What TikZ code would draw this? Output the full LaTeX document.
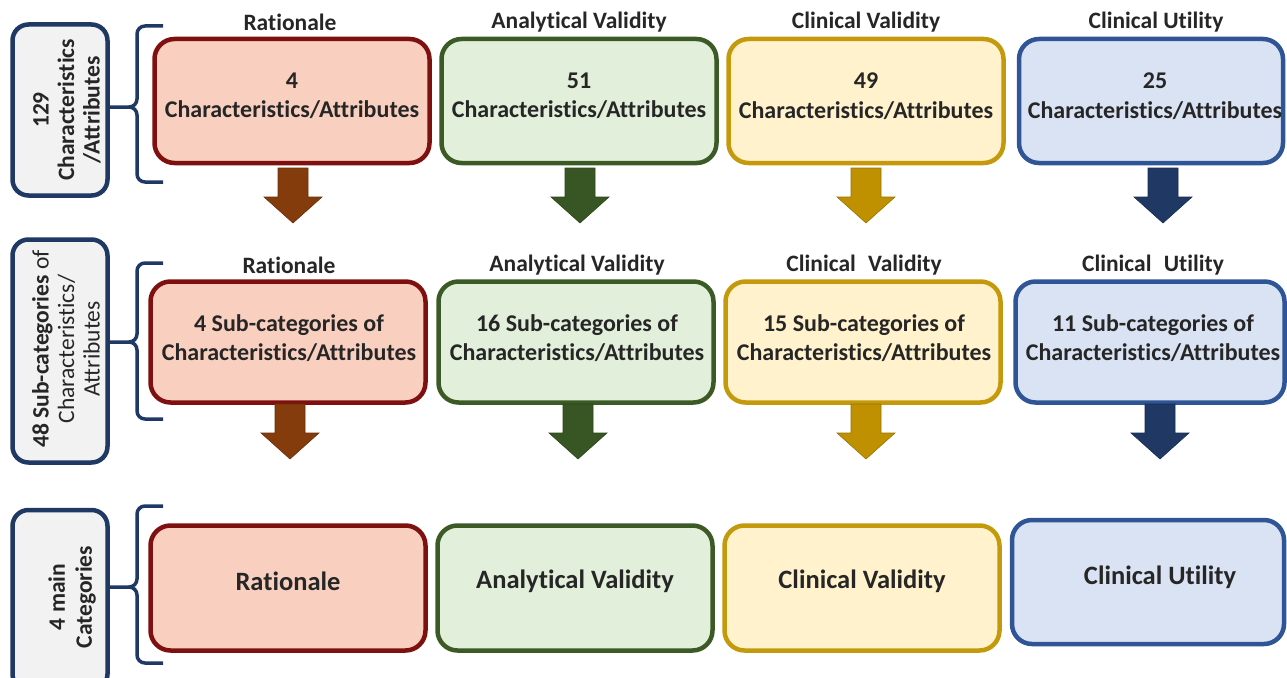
\documentclass[tikz,border=0pt]{standalone}
\usepackage{fontspec}
\setmainfont[Ligatures=NoCommon]{Carlito}
\definecolor{txt}{HTML}{262626}
\definecolor{navy}{HTML}{1F3864}
\definecolor{leftfill}{HTML}{F2F2F2}
\definecolor{rfill}{HTML}{F9D0C0}
\definecolor{rdraw}{HTML}{7E1010}
\definecolor{rarrow}{HTML}{843C0C}
\definecolor{afill}{HTML}{E2EFDA}
\definecolor{adraw}{HTML}{3B5A26}
\definecolor{aarrow}{HTML}{375623}
\definecolor{cvfill}{HTML}{FFF2CC}
\definecolor{cvdraw}{HTML}{C49A0C}
\definecolor{cvarrow}{HTML}{BF9000}
\definecolor{cufill}{HTML}{DAE3F3}
\definecolor{cudraw}{HTML}{2F5597}
\definecolor{cuarrow}{HTML}{1F3864}
\begin{document}
\begin{tikzpicture}[x=1pt,y=-1pt,
  catbox/.style={rounded corners=20pt,line width=4.5pt,minimum width=275pt,inner sep=0pt},
  rbox/.style={catbox,fill=rfill,draw=rdraw},
  abox/.style={catbox,fill=afill,draw=adraw},
  cvbox/.style={catbox,fill=cvfill,draw=cvdraw},
  cubox/.style={catbox,fill=cufill,draw=cudraw},
  sidebox/.style={rounded corners=16pt,line width=4.5pt,draw=navy,fill=leftfill,minimum width=95pt,inner sep=0pt},
  bracket/.style={draw=navy,line width=3.5pt},
  title/.style={text=txt,font=\bfseries\fontsize{23.5}{27}\selectfont,inner sep=0pt},
  boxtext/.style={text=txt,font=\bfseries\fontsize{24}{29.5}\selectfont,align=center,inner sep=0pt},
  bigtext/.style={text=txt,font=\bfseries\fontsize{26.5}{30}\selectfont,align=center,inner sep=0pt},
  sidetext/.style={text=txt,font=\fontsize{23.5}{25.5}\selectfont,align=center,inner sep=0pt,rotate=90},
  blockarrow/.pic={\path[fill,draw,line width=0.6pt] (-15,0) -- (15,0) -- (15,29) -- (29,29) -- (0,55) -- (-29,29) -- (-15,29) -- cycle;}
]
\useasboundingbox (0,0) rectangle (1287,677);

% ---------- left side labels ----------
\node[sidebox,minimum height=171pt] (s1) at (60,110) {};
\node[sidetext,font=\bfseries\fontsize{23.5}{25.5}\selectfont] (s1t) at (67,110) {129\\Characteristics\\/Attributes};
\node[sidebox,minimum height=223pt] (s2) at (60,351) {};
\node[sidetext] (s2t) at (66,349) {\textbf{48 Sub-categories} of\\Characteristics/\\Attributes};
\node[sidebox,minimum height=180pt] (s3) at (60,600) {};
\node[sidetext,font=\bfseries\fontsize{23.5}{27}\selectfont] (s3t) at (72,597) {4 main\\Categories};

% ---------- brackets ----------
\coordinate (b1t) at (163,26);
\coordinate (b1b) at (163,182);
\coordinate (b1m) at (137,107);
\draw[bracket] (b1t) -- (145,26) to[out=180,in=90] (137,34) -- (137,99) to[out=-90,in=0] (129,107) -- (s1.east |- b1m);
\draw[bracket] (b1b) -- (145,182) to[out=180,in=-90] (137,174) -- (137,115) to[out=90,in=0] (129,107);

\coordinate (b2t) at (163,263);
\coordinate (b2b) at (163,419);
\coordinate (b2m) at (137,342);
\draw[bracket] (b2t) -- (145,263) to[out=180,in=90] (137,271) -- (137,334) to[out=-90,in=0] (129,342) -- (s2.east |- b2m);
\draw[bracket] (b2b) -- (145,419) to[out=180,in=-90] (137,411) -- (137,350) to[out=90,in=0] (129,342);

\coordinate (b3t) at (163,506);
\coordinate (b3b) at (163,663);
\coordinate (b3m) at (137,587);
\draw[bracket] (b3t) -- (145,506) to[out=180,in=90] (137,514) -- (137,579) to[out=-90,in=0] (129,587) -- (s3.east |- b3m);
\draw[bracket] (b3b) -- (145,663) to[out=180,in=-90] (137,655) -- (137,595) to[out=90,in=0] (129,587);

% ---------- row 1 ----------
\node[title] (t1r) at (290,22) {Rationale};
\node[title] (t1a) at (579,22) {Analytical Validity};
\node[title] (t1cv) at (866,22) {Clinical Validity};
\node[title] (t1cu) at (1156,22) {Clinical Utility};

\node[rbox,minimum height=124pt] (r1) at (292,101) {};
\node[abox,minimum height=124pt] (a1) at (579,101) {};
\node[cvbox,minimum height=124pt] (cv1) at (866,101) {};
\node[cubox,minimum height=124pt,minimum width=264pt] (cu1) at (1151,101) {};
\node[boxtext] (r1t) at (292,96) {4\\Characteristics/Attributes};
\node[boxtext] (a1t) at (579,96) {51\\Characteristics/Attributes};
\node[boxtext] (cv1t) at (866,96) {49\\Characteristics/Attributes};
\node[boxtext] (cu1t) at (1155,96) {25\\Characteristics/Attributes};

\pic[fill=rarrow,draw=rarrow!80!black] at (293,168) {blockarrow};
\pic[fill=aarrow,draw=aarrow!80!black] at (580,168) {blockarrow};
\pic[fill=cvarrow,draw=cvarrow!80!black] at (866,168) {blockarrow};
\pic[fill=cuarrow,draw=cuarrow!80!black] at (1163,168) {blockarrow};

% ---------- row 2 ----------
\node[title] (t2r) at (289,265) {Rationale};
\node[title] (t2a) at (577,265) {Analytical Validity};
\node[title] (t2cv) at (864,265) {Clinical\hspace{0.3em} Validity};
\node[title] (t2cu) at (1153,265) {Clinical\hspace{0.3em} Utility};

\node[rbox,minimum height=121pt] (r2) at (288,342) {};
\node[abox,minimum height=121pt] (a2) at (576,342) {};
\node[cvbox,minimum height=121pt] (cv2) at (863,342) {};
\node[cubox,minimum height=121pt,minimum width=269pt] (cu2) at (1150,342) {};
\node[boxtext] (r2t) at (289,338) {4 Sub-categories of\\Characteristics/Attributes};
\node[boxtext] (a2t) at (577,338) {16 Sub-categories of\\Characteristics/Attributes};
\node[boxtext] (cv2t) at (864,338) {15 Sub-categories of\\Characteristics/Attributes};
\node[boxtext] (cu2t) at (1153,338) {11 Sub-categories of\\Characteristics/Attributes};

\pic[fill=rarrow,draw=rarrow!80!black] at (290,404) {blockarrow};
\pic[fill=aarrow,draw=aarrow!80!black] at (578,404) {blockarrow};
\pic[fill=cvarrow,draw=cvarrow!80!black] at (866,404) {blockarrow};
\pic[fill=cuarrow,draw=cuarrow!80!black] at (1160,404) {blockarrow};

% ---------- row 3 ----------
\node[rbox,minimum height=125pt] (r3) at (288,588) {};
\node[abox,minimum height=125pt] (a3) at (575,588) {};
\node[cvbox,minimum height=125pt] (cv3) at (862,588) {};
\node[cubox,minimum height=124pt,minimum width=272pt] (cu3) at (1148,582) {};
\node[bigtext] (r3t) at (288,581) {Rationale};
\node[bigtext] (a3t) at (575,581) {Analytical Validity};
\node[bigtext] (cv3t) at (862,581) {Clinical Validity};
\node[bigtext] (cu3t) at (1160,577) {Clinical Utility};
\end{tikzpicture}
\end{document}
